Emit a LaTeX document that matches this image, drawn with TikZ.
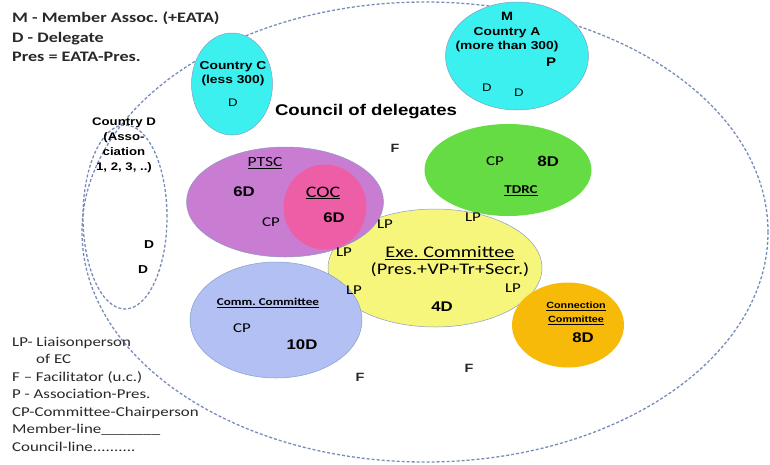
\documentclass[tikz,border=0pt]{standalone}
\usepackage{fontspec}
\setmainfont{Carlito}
\newfontfamily\calw[FakeStretch=1.25]{Carlito}
\newfontfamily\arw[FakeStretch=1.2]{Liberation Sans}
\usetikzlibrary{shapes.geometric}
\definecolor{cyanfill}{RGB}{60,240,240}
\definecolor{ptscfill}{RGB}{200,125,210}
\definecolor{cocfill}{RGB}{238,94,166}
\definecolor{tdrcfill}{RGB}{102,220,68}
\definecolor{execfill}{RGB}{246,246,124}
\definecolor{commfill}{RGB}{178,192,244}
\definecolor{connfill}{RGB}{248,186,8}
\definecolor{edgeblue}{RGB}{138,156,196}
\definecolor{dashblue}{RGB}{120,140,186}
\definecolor{legendgray}{RGB}{40,40,40}
\frenchspacing

\begin{document}
\begin{tikzpicture}[x=1pt, y=-1pt,
    blob/.style={ellipse, draw=edgeblue, line width=0.5pt, inner sep=0pt},
    councilline/.style={ellipse, draw=dashblue, line width=1.3pt, dash pattern=on 3pt off 2pt, inner sep=0pt},
    cname/.style={font=\arw\bfseries\fontsize{11.5}{14}\selectfont, align=center, inner sep=0pt},
    dnum/.style={font=\arw\bfseries\fontsize{14}{14}\selectfont, inner sep=0pt},
    dsmall/.style={font=\arw\fontsize{11}{11}\selectfont, inner sep=0pt},
    tag/.style={font=\calw\fontsize{13.5}{13}\selectfont, inner sep=0pt},
    head/.style={font=\calw\fontsize{14}{14}\selectfont, inner sep=0pt},
    facil/.style={font=\arw\bfseries\fontsize{12}{12}\selectfont, text=legendgray, inner sep=0pt}
]
\useasboundingbox (0,0) rectangle (770,464);

\node[councilline, minimum width=686pt, minimum height=460pt] (council) at (425,232) {};
\node[councilline, minimum width=84pt, minimum height=184pt] (countryD) at (125,217) {};

\node[blob, fill=execfill, minimum width=214pt, minimum height=118pt] (exec) at (435,268) {};
\node[blob, fill=ptscfill, minimum width=197pt, minimum height=110pt] (ptsc) at (285,202) {};
\node[blob, fill=cocfill, draw=none, minimum width=83pt, minimum height=85pt] (coc) at (325,207) {};
\node[blob, fill=tdrcfill, draw=none, minimum width=167pt, minimum height=92pt] (tdrc) at (508,170) {};
\node[blob, fill=commfill, minimum width=172pt, minimum height=116pt] (comm) at (276,320) {};
\node[blob, fill=connfill, draw=none, minimum width=112pt, minimum height=85pt] (conn) at (568,325) {};
\node[blob, fill=cyanfill, minimum width=143pt, minimum height=108pt] (countryA) at (517,56) {};
\node[blob, fill=cyanfill, minimum width=81pt, minimum height=102pt] (countryC) at (232,84) {};

\node[font=\calw\bfseries\fontsize{14.5}{19.5}\selectfont, text=legendgray, align=left, anchor=west, inner sep=0pt] (keytop) at (12,37)
    {M - Member Assoc. (+EATA)\\D - Delegate\\Pres = EATA-Pres.};
\node[font=\calw\fontsize{13.5}{17.5}\selectfont, text=legendgray, align=left, anchor=west, inner sep=0pt] (keybottom) at (12,394)
    {LP- Liaisonperson\\\hspace*{24pt}of EC\\F – Facilitator (u.c.)\\P - Association-Pres.\\CP-Committee-Chairperson\\Member-line\_\_\_\_\_\_\_\\Council-line..........};

\node[cname] (countryC-name) at (233,74) {Country C\\(less 300)};
\node[dsmall] (countryC-d) at (233,103) {D};

\node[dsmall, font=\arw\bfseries\fontsize{12}{12}\selectfont] (countryA-m) at (507,16) {M};
\node[cname] (countryA-name) at (507,40) {Country A\\(more than 300)};
\node[dnum, font=\arw\bfseries\fontsize{12.5}{12}\selectfont] (countryA-p) at (551,62) {P};
\node[dsmall] (countryA-d1) at (487,88) {D};
\node[dsmall] (countryA-d2) at (519,93) {D};

\node[cname, font=\arw\bfseries\fontsize{11}{15}\selectfont] (countryD-name) at (124,145) {Country D\\(Asso-\\ciation\\1, 2, 3, ..)};
\node[dsmall, font=\arw\bfseries\fontsize{11.5}{11}\selectfont] (countryD-d1) at (149,245) {D};
\node[dsmall, font=\arw\bfseries\fontsize{11.5}{11}\selectfont] (countryD-d2) at (143,270) {D};

\node[font=\arw\bfseries\fontsize{15.5}{15}\selectfont, inner sep=0pt] (delegates) at (366,112) {Council of delegates};

\node[head] (ptsc-name) at (265,163) {\underline{PTSC}};
\node[dnum] (ptsc-d) at (244,192) {6D};
\node[tag] (ptsc-cp) at (271,222) {CP};
\node[head, font=\calw\fontsize{16}{16}\selectfont] (coc-name) at (323,193) {\underline{COC}};
\node[dnum] (coc-d) at (334,218) {6D};

\node[tag] (tdrc-cp) at (495,161) {CP};
\node[dnum, font=\calw\bfseries\fontsize{15}{15}\selectfont] (tdrc-d) at (548,161) {8D};
\node[head, font=\calw\bfseries\fontsize{12}{12}\selectfont] (tdrc-name) at (521,191) {\underline{TDRC}};

\node[font=\calw\fontsize{16.2}{17}\selectfont, align=center, inner sep=0pt] (exec-name) at (450,261.5) {\underline{Exe. Committee}\\(Pres.+VP+Tr+Secr.)};
\node[dnum] (exec-d) at (442,307) {4D};
\node[tag] (lp1) at (385,224) {LP};
\node[tag] (lp2) at (473,217) {LP};
\node[tag] (lp3) at (344,252) {LP};
\node[tag] (lp4) at (354,290) {LP};
\node[tag] (lp5) at (513,288) {LP};

\node[cname, font=\calw\bfseries\fontsize{10.5}{10}\selectfont] (comm-name) at (268,303) {\underline{Comm. Committee}};
\node[tag] (comm-cp) at (242,328) {CP};
\node[dnum] (comm-d) at (302,345) {10D};

\node[cname, font=\arw\bfseries\fontsize{9}{14}\selectfont] (conn-name) at (576,313) {\underline{Connection}\\\underline{Committee}};
\node[dnum] (conn-d) at (583,338) {8D};

\node[facil] (f1) at (395,148) {F};
\node[facil] (f2) at (360,377) {F};
\node[facil] (f3) at (469,368) {F};
\end{tikzpicture}
\end{document}
